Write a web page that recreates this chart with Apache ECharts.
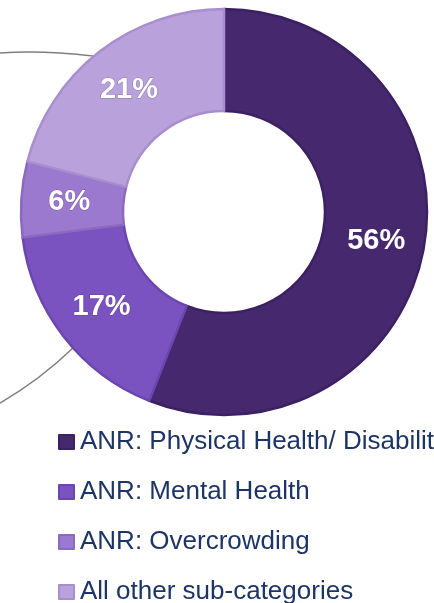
<!DOCTYPE html>
<html>
<head>
<meta charset="utf-8">
<script src="https://cdn.jsdelivr.net/npm/echarts@6/dist/echarts.min.js"></script>
<style>
  html, body { margin: 0; padding: 0; background: #fff; }
  #chart { width: 434px; height: 603px; }
</style>
</head>
<body>
<div id="chart"></div>
<script>
// sub-categories and their shares (%)
const categories = [
  'ANR: Physical Health/ Disability',
  'ANR: Mental Health',
  'ANR: Overcrowding',
  'All other sub-categories'
];
const shares = [56, 17, 6, 21];
const fills = ['#46286f', '#7a53c0', '#9a79cf', '#b9a1db'];
const borders = ['#3b2062', '#6b46ae', '#8b69bf', '#a88ecd'];

const chart = echarts.init(document.getElementById('chart'));

chart.setOption({
  animation: false,
  legend: {
    orient: 'vertical',
    left: 53,
    top: 422,
    height: 200,
    padding: 5,
    icon: 'rect',
    itemWidth: 15,
    itemHeight: 14,
    itemGap: 20,
    selectedMode: false,
    textStyle: {
      fontFamily: 'Liberation Sans, Arial, sans-serif',
      fontSize: 26,
      lineHeight: 30,
      color: '#1d3466',
      padding: [0, 0, 0, 1]
    },
    data: categories
  },
  // leftover connector lines from the source slide
  graphic: [
    {
      type: 'bezierCurve',
      shape: { x1: 0, y1: 53, x2: 93, y2: 56, cpx1: 42, cpy1: 50 },
      style: { stroke: '#7f7f7f', lineWidth: 1.5, fill: null }
    },
    {
      type: 'bezierCurve',
      shape: { x1: 0, y1: 403, x2: 74, y2: 347, cpx1: 40, cpy1: 380 },
      style: { stroke: '#7f7f7f', lineWidth: 1.5, fill: null }
    }
  ],
  series: [
    {
      type: 'pie',
      center: [224, 212],
      radius: [101, 203],
      startAngle: 90,
      clockwise: true,
      silent: true,
      z: 3,
      label: {
        show: true,
        position: 'inside',
        formatter: '{c}%',
        color: '#fff',
        fontFamily: 'Liberation Sans, Arial, sans-serif',
        fontWeight: 'bold',
        fontSize: 29,
        padding: [5, 0, 0, 0],
        textBorderColor: 'rgba(60,40,90,0.35)',
        textBorderWidth: 1
      },
      labelLine: { show: false },
      data: categories.map((name, i) => ({
        name: name,
        value: shares[i],
        itemStyle: { color: fills[i], borderColor: borders[i], borderWidth: 2.5 }
      }))
    }
  ]
});
</script>
</body>
</html>
